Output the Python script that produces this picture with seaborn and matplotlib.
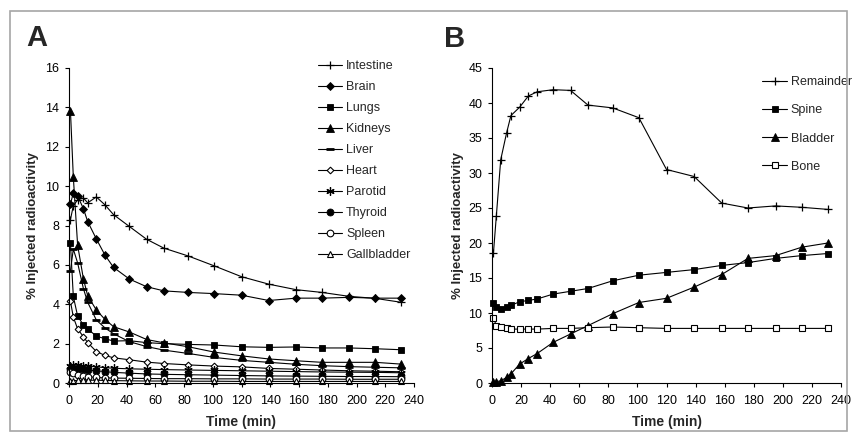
import matplotlib
matplotlib.use("Agg")
import matplotlib.pyplot as plt
import seaborn as sns
from matplotlib.patches import Rectangle

sns.set_style("ticks")
plt.rcParams['font.family'] = ['Liberation Sans', 'DejaVu Sans']

# ---------------- data ----------------
time_min = [1, 3, 6, 10, 13, 19, 25, 31, 42, 54, 66, 83, 101, 120, 139, 158, 176, 195, 213, 231]

intestine = [8.3, 9.0, 9.3, 9.4, 9.15, 9.45, 9.05, 8.55, 7.95, 7.3, 6.85, 6.45, 5.95, 5.4, 5.02, 4.74, 4.6, 4.4, 4.3, 4.1]
brain = [9.08, 9.66, 9.5, 8.86, 8.2, 7.32, 6.5, 5.87, 5.28, 4.89, 4.68, 4.6, 4.54, 4.46, 4.19, 4.31, 4.31, 4.35, 4.31, 4.31]
lungs = [7.1, 4.4, 3.4, 2.95, 2.75, 2.38, 2.25, 2.13, 2.15, 2.05, 2.0, 1.96, 1.93, 1.84, 1.81, 1.83, 1.78, 1.78, 1.74, 1.69]
kidneys = [13.83, 10.47, 7.0, 5.3, 4.43, 3.71, 3.23, 2.86, 2.59, 2.21, 2.04, 1.84, 1.57, 1.38, 1.22, 1.13, 1.05, 1.05, 1.05, 0.96]
liver = [5.7, 6.8, 6.1, 4.8, 4.1, 3.2, 2.8, 2.5, 2.1, 1.85, 1.67, 1.5, 1.3, 1.15, 1.05, 0.95, 0.88, 0.83, 0.8, 0.77]
heart = [4.15, 3.35, 2.75, 2.35, 2.05, 1.6, 1.4, 1.28, 1.18, 1.06, 0.99, 0.92, 0.86, 0.82, 0.74, 0.7, 0.66, 0.62, 0.6, 0.57]
parotid = [0.85, 0.9, 0.9, 0.88, 0.85, 0.82, 0.78, 0.75, 0.72, 0.7, 0.68, 0.66, 0.64, 0.62, 0.6, 0.58, 0.56, 0.55, 0.54, 0.52]
thyroid = [0.7, 0.72, 0.72, 0.7, 0.66, 0.62, 0.58, 0.54, 0.5, 0.46, 0.44, 0.42, 0.4, 0.38, 0.36, 0.35, 0.34, 0.33, 0.33, 0.32]
spleen = [0.55, 0.5, 0.42, 0.36, 0.32, 0.28, 0.26, 0.25, 0.24, 0.23, 0.22, 0.22, 0.21, 0.21, 0.2, 0.2, 0.2, 0.19, 0.19, 0.19]
gallbladder = [0.1, 0.12, 0.13, 0.14, 0.14, 0.14, 0.13, 0.12, 0.11, 0.1, 0.1, 0.09, 0.09, 0.08, 0.08, 0.08, 0.08, 0.08, 0.08, 0.08]

remainder = [18.6, 23.9, 31.9, 35.7, 38.2, 39.4, 41.0, 41.6, 41.9, 41.8, 39.7, 39.3, 37.9, 30.5, 29.5, 25.7, 25.0, 25.3, 25.1, 24.8]
spine = [11.4, 10.9, 10.6, 10.9, 11.1, 11.6, 11.8, 12.0, 12.7, 13.1, 13.5, 14.6, 15.4, 15.8, 16.2, 16.8, 17.2, 17.8, 18.2, 18.5]
bladder = [0.1, 0.2, 0.3, 0.8, 1.3, 2.7, 3.5, 4.2, 5.8, 7.0, 8.2, 9.9, 11.5, 12.1, 13.7, 15.5, 17.8, 18.2, 19.4, 20.0]
bone = [9.3, 8.2, 8.0, 7.8, 7.7, 7.7, 7.7, 7.7, 7.8, 7.8, 7.9, 8.0, 7.9, 7.8, 7.8, 7.8, 7.8, 7.8, 7.8, 7.8]

x_ticks = list(range(0, 241, 20))
ya_ticks = list(range(0, 17, 2))
yb_ticks = list(range(0, 46, 5))

# ---------------- styles ----------------
W, H = 857, 441
fig = plt.figure(figsize=(W / 100, H / 100), dpi=100)
fig.patches.append(Rectangle((10 / W, 1 - 431 / H), 837 / W, 420 / H, transform=fig.transFigure,
                             fill=False, edgecolor='#a6a6a6', linewidth=1.2))

axA = fig.add_axes([69 / W, 1 - 383 / H, 345 / W, 315 / H])
axB = fig.add_axes([492 / W, 1 - 383 / H, 349 / W, 315 / H])

plus = dict(marker='+', ms=6, mew=0.9, mfc='k', mec='k')
filled = lambda m, s: dict(marker=m, ms=s, mfc='k', mec='k', mew=0.6)
openm = lambda m, s: dict(marker=m, ms=s, mfc='white', mec='k', mew=0.8)

seriesA = [
    ("Intestine", intestine, plus),
    ("Brain", brain, filled('D', 4.0)),
    ("Lungs", lungs, filled('s', 5.0)),
    ("Kidneys", kidneys, filled('^', 5.2)),
    ("Liver", liver, dict(marker='_', ms=6, mew=2.0, mec='k')),
    ("Heart", heart, openm('D', 3.4)),
    ("Parotid", parotid, dict(marker=(6, 2, 0), ms=6, mew=0.9, mec='k')),
    ("Thyroid", thyroid, filled('o', 5.0)),
    ("Spleen", spleen, openm('o', 4.8)),
    ("Gallbladder", gallbladder, openm('^', 4.8)),
]
seriesB = [
    ("Remainder", remainder, plus),
    ("Spine", spine, filled('s', 5.0)),
    ("Bladder", bladder, filled('^', 5.2)),
    ("Bone", bone, openm('s', 5.0)),
]

for ax, series in ((axA, seriesA), (axB, seriesB)):
    for name, vals, st in series:
        sns.lineplot(x=time_min, y=vals, ax=ax, color='k', linewidth=0.8, label=name,
                     clip_on=False, **st)

for ax, yt, ymax in ((axA, ya_ticks, 16), (axB, yb_ticks, 45)):
    ax.set_xlim(0, 240)
    ax.set_ylim(0, ymax)
    ax.set_xticks(x_ticks)
    ax.set_yticks(yt)
    sns.despine(ax=ax)
    for s in ('left', 'bottom'):
        ax.spines[s].set_linewidth(0.8)
        ax.spines[s].set_color('k')
    ax.tick_params(direction='out', length=3, width=0.8, labelsize=9, pad=4, colors='k')
    ax.tick_params(axis='x', pad=6)
    ax.set_xlabel("Time (min)", fontsize=10, fontweight='bold')
    ax.set_ylabel("% Injected radioactivity", fontsize=9.5, fontweight='bold')
    ax.xaxis.set_label_coords(0.5, -0.125)
    ax.xaxis.label.set_va('center')

axA.yaxis.set_label_coords(-0.105, 0.5)
axB.yaxis.set_label_coords(-0.097, 0.5)
axA.yaxis.label.set_va('center')
axB.yaxis.label.set_va('center')

legA = axA.legend(loc='upper left', bbox_to_anchor=(318 / W, 1 - 60 / H), bbox_transform=fig.transFigure,
                  frameon=False, fontsize=9, labelspacing=0.72, handlelength=1.9, handletextpad=0.35,
                  borderpad=0, borderaxespad=0)
legB = axB.legend(loc='upper left', bbox_to_anchor=(762 / W, 1 - 76 / H), bbox_transform=fig.transFigure,
                  frameon=False, fontsize=9, labelspacing=1.3, handlelength=2.0, handletextpad=0.3,
                  borderpad=0, borderaxespad=0)

fig.text(37 / W, 1 - 38 / H, "A", fontsize=21, fontweight='bold', ha='center', va='center')
fig.text(455 / W, 1 - 39 / H, "B", fontsize=21, fontweight='bold', ha='center', va='center')

fig.savefig("out.png", dpi=100)
